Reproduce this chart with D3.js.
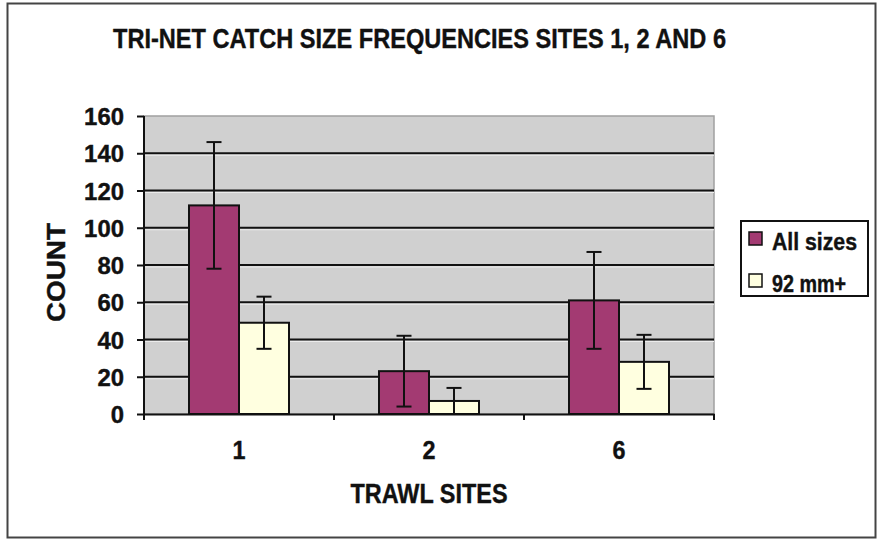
<!DOCTYPE html>
<html>
<head>
<meta charset="utf-8">
<script src="https://cdn.jsdelivr.net/npm/d3@7"></script>
<style>
  body { margin: 0; background: #fff; }
  text { font-family: "Liberation Sans", Arial, sans-serif; font-weight: bold; fill: #111; stroke: #111; stroke-width: 0.4px; }
</style>
</head>
<body>
<svg id="chart" width="878" height="539"></svg>
<script>
// data
const sites = ["1", "2", "6"];
const seriesNames = ["All sizes", "92 mm+"];
const allSizes = [112, 23, 61];
const allSizesErr = [34, 19, 26];
const mm92 = [49, 7, 28];
const mm92Err = [14, 7, 14.5];
const yTicks = [0, 20, 40, 60, 80, 100, 120, 140, 160];

const colors = { "All sizes": "#a33a72", "92 mm+": "#ffffe0" };

const svg = d3.select("#chart");
const m = { top: 116, right: 164, bottom: 125, left: 144 };
const W = 878, H = 539;

// outer frame
svg.append("rect")
  .attr("x", 7.5).attr("y", 3.5).attr("width", 868).attr("height", 534)
  .attr("fill", "#fff").attr("stroke", "#444").attr("stroke-width", 2);

const x = d3.scaleBand().domain(sites).range([m.left, W - m.right]);
const xs = d3.scaleBand().domain(seriesNames).range([0, x.bandwidth()]).paddingOuter(0.9);
const y = d3.scaleLinear().domain([0, 160]).range([H - m.bottom, m.top]);

// plot background
svg.append("rect")
  .attr("x", m.left).attr("y", y(160))
  .attr("width", W - m.right - m.left).attr("height", y(0) - y(160))
  .attr("fill", "#d0d0d0").attr("stroke", "#a0a0a0").attr("stroke-width", 1.5);

// gridlines
const gridVals = yTicks.filter(d => d > 0 && d < 160);
const grid = svg.append("g");
grid.selectAll("line.g").data(gridVals).join("line")
  .attr("class", "g")
  .attr("x1", m.left).attr("x2", W - m.right)
  .attr("y1", d => y(d)).attr("y2", d => y(d))
  .attr("stroke", "#111").attr("stroke-width", 2);
grid.selectAll("line.h").data(gridVals).join("line")
  .attr("class", "h")
  .attr("x1", m.left).attr("x2", W - m.right)
  .attr("y1", d => y(d) + 2).attr("y2", d => y(d) + 2)
  .attr("stroke", "#ececec").attr("stroke-width", 1);

// bars
const rows = sites.map((s, i) => [
  { site: s, key: "All sizes", v: allSizes[i], e: allSizesErr[i] },
  { site: s, key: "92 mm+", v: mm92[i], e: mm92Err[i] }
]).flat();

svg.append("g").selectAll("rect").data(rows).join("rect")
  .attr("x", d => x(d.site) + xs(d.key))
  .attr("y", d => y(d.v))
  .attr("width", xs.bandwidth())
  .attr("height", d => y(0) - y(d.v))
  .attr("fill", d => colors[d.key])
  .attr("stroke", "#111").attr("stroke-width", 2);

// error bars
const eb = svg.append("g").attr("stroke", "#111").attr("stroke-width", 2);
const cx = d => x(d.site) + xs(d.key) + xs.bandwidth() / 2;
const lo = d => y(Math.max(0, d.v - d.e));
eb.selectAll("line.v").data(rows).join("line").attr("class", "v")
  .attr("x1", cx).attr("x2", cx)
  .attr("y1", d => y(d.v + d.e)).attr("y2", lo);
eb.selectAll("line.t").data(rows).join("line").attr("class", "t")
  .attr("x1", d => cx(d) - 7.5).attr("x2", d => cx(d) + 7.5)
  .attr("y1", d => y(d.v + d.e)).attr("y2", d => y(d.v + d.e));
eb.selectAll("line.b").data(rows).join("line").attr("class", "b")
  .attr("x1", d => cx(d) - 7.5).attr("x2", d => cx(d) + 7.5)
  .attr("y1", lo).attr("y2", lo);

// y axis
const yAxis = svg.append("g").attr("transform", `translate(${m.left},0)`)
  .call(d3.axisLeft(y).tickValues(yTicks).tickSize(7).tickPadding(13));
yAxis.select(".domain").attr("d", `M0,${y(160)}V${y(0) + 6}`).attr("stroke", "#111").attr("stroke-width", 2);
yAxis.selectAll(".tick line").attr("stroke", "#111").attr("stroke-width", 2);
yAxis.selectAll(".tick text").attr("font-size", 24).attr("dy", "0.36em")
  .attr("textLength", t => String(t).length * 13.3).attr("lengthAdjust", "spacingAndGlyphs")
  .style("font-family", "'Liberation Sans', Arial, sans-serif").style("font-weight", "bold");

// x axis
const xAxis = svg.append("g").attr("transform", `translate(0,${y(0)})`)
  .call(d3.axisBottom(x).tickSize(0).tickPadding(27));
xAxis.select(".domain").attr("stroke", "#111").attr("stroke-width", 2);
xAxis.selectAll(".tick text").attr("font-size", 26).attr("textLength", 13).attr("lengthAdjust", "spacingAndGlyphs")
  .style("font-family", "'Liberation Sans', Arial, sans-serif").style("font-weight", "bold");
xAxis.selectAll("line.sep").data(sites.concat(["end"])).join("line").attr("class", "sep")
  .attr("x1", (d, i) => m.left + i * x.step()).attr("x2", (d, i) => m.left + i * x.step())
  .attr("y1", 0).attr("y2", 6)
  .attr("stroke", "#111").attr("stroke-width", 2);

// titles
svg.append("text")
  .attr("x", 419.5).attr("y", 48).attr("text-anchor", "middle")
  .attr("font-size", 28).attr("textLength", 613).attr("lengthAdjust", "spacingAndGlyphs")
  .text("TRI-NET CATCH SIZE FREQUENCIES SITES 1, 2 AND 6");

svg.append("text")
  .attr("x", 429).attr("y", 503).attr("text-anchor", "middle")
  .attr("font-size", 27).attr("textLength", 157).attr("lengthAdjust", "spacingAndGlyphs")
  .text("TRAWL SITES");

svg.append("text")
  .attr("transform", `translate(65,272.5) rotate(-90)`)
  .attr("text-anchor", "middle")
  .attr("font-size", 25).attr("textLength", 99).attr("lengthAdjust", "spacingAndGlyphs")
  .text("COUNT");

// legend
const lg = svg.append("g");
lg.append("rect").attr("x", 741).attr("y", 221).attr("width", 127).attr("height", 75)
  .attr("fill", "#fff").attr("stroke", "#111").attr("stroke-width", 2);
const items = lg.selectAll("g.item").data(seriesNames).join("g")
  .attr("class", "item")
  .attr("transform", (d, i) => `translate(749,${232 + i * 42})`);
items.append("rect").attr("width", 13).attr("height", 13)
  .attr("fill", d => colors[d]).attr("stroke", "#111").attr("stroke-width", 1.5);
items.append("text").attr("x", 23).attr("y", 18).attr("font-size", 23)
  .attr("textLength", d => d === "All sizes" ? 85 : 74).attr("lengthAdjust", "spacingAndGlyphs")
  .text(d => d);
</script>
</body>
</html>
